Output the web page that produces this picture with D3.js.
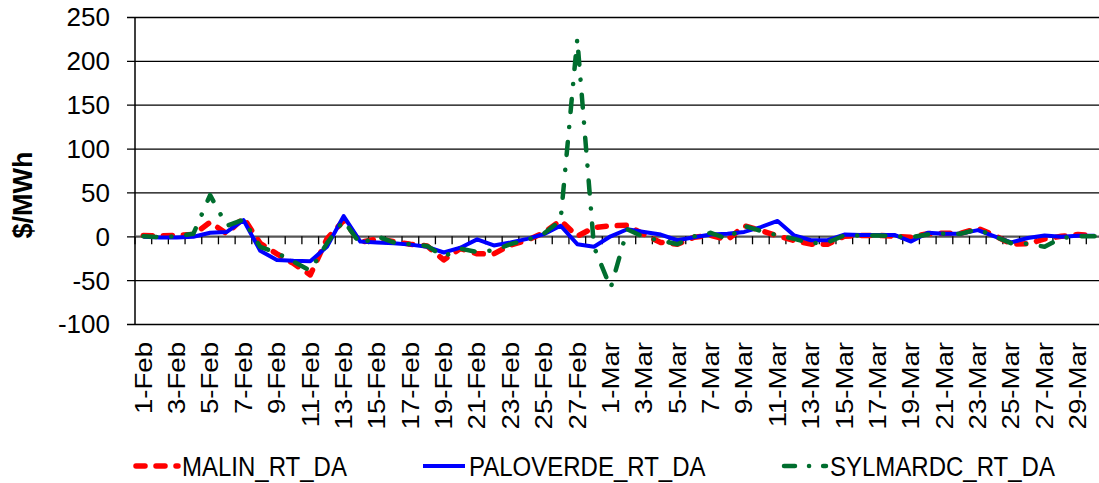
<!DOCTYPE html>
<html>
    <head>
        <title>RT - DA spreads</title>
        <script src="https://d3js.org/d3.v7.min.js"></script>
        <style>
            body { margin: 0; background: white; }
            text { font-family: "Liberation Sans", Arial, sans-serif; fill: black; }
            .gridlines line { stroke: #000; stroke-width: 1.3; }
            .gridlines .domain { stroke: none; }
        </style>
    </head>

    <body>
        <svg id="svg" width=1099 height=483></svg>

        <script>
            // categories (one per day)
            const dates = [
                "1-Feb","2-Feb","3-Feb","4-Feb","5-Feb","6-Feb","7-Feb","8-Feb","9-Feb","10-Feb",
                "11-Feb","12-Feb","13-Feb","14-Feb","15-Feb","16-Feb","17-Feb","18-Feb","19-Feb","20-Feb",
                "21-Feb","22-Feb","23-Feb","24-Feb","25-Feb","26-Feb","27-Feb","28-Feb",
                "1-Mar","2-Mar","3-Mar","4-Mar","5-Mar","6-Mar","7-Mar","8-Mar","9-Mar","10-Mar",
                "11-Mar","12-Mar","13-Mar","14-Mar","15-Mar","16-Mar","17-Mar","18-Mar","19-Mar","20-Mar",
                "21-Mar","22-Mar","23-Mar","24-Mar","25-Mar","26-Mar","27-Mar","28-Mar","29-Mar","30-Mar"
            ];

            const malin = [
                1, 0.5, 1, 2, 16, 3, 21, -8, -20, -31,
                -44, -3, 18, -7, -3, -6, -9, -11, -27, -14,
                -20, -20, -10, -4.5, 4, 18, 0, 10,
                12, 12.5, 2, -7, -9, -1, 1, -4, 12, 6.5,
                0.5, -5, -9, -9, 0, 1, 1, 0, -1, 3,
                3.5, 3.5, 9, 1, -9, -8.5, -3, 0, 2, 1
            ];

            const paloverde = [
                -0.5, -1.5, -1.5, -0.5, 4, 5, 18.5, -16.5, -27, -28,
                -28.5, -12, 23, -6, -7, -8, -9.5, -12, -18.5, -13,
                -3.5, -10.5, -7, -3, 2.5, 12, -9, -12,
                0, 8, 5, 2, -4.5, -1, 2, 3, 5, 10.5,
                17.5, 1, -4.5, -4.5, 2, 1.5, 1.5, 1.5, -6, 4,
                3, 3, 7, 0, -7, -2, 1, -0.5, 0.5, 0.5
            ];

            const sylmardc = [
                0, -1, 0, 3, 47, 12, 19, -12, -19, -29,
                -39, -8, 18, -9, 0, -7, -9, -11, -23, -14,
                -18, -16, -9, -4, 3, 18, 225, -12,
                -59, 8, -1, -5, -9, 0, 4, -3, 12, 6,
                1, -3, -8, -7, 1, 1, 1, 0, -1, 2,
                3, 3, 8, 0, -8, -8.5, -12, -2, 0, 0
            ];

            const yTicks = [-100, -50, 0, 50, 100, 150, 200, 250];

            const seriesNames = ["MALIN_RT_DA", "PALOVERDE_RT_DA", "SYLMARDC_RT_DA"];

            const svg = d3.select("svg#svg");
            const margins = { top: 17, right: -4, bottom: 159, left: 135 };
            const width = +svg.attr("width");
            const height = +svg.attr("height");
            const chartWidth = width - margins.left - margins.right;
            const chartHeight = height - margins.top - margins.bottom;

            svg.append("rect").attr("width", width).attr("height", height).attr("fill", "white");

            // Scales
            const xScale = d3.scaleBand()
                             .domain(dates)
                             .range([0, chartWidth]);
            const yScale = d3.scaleLinear()
                             .domain([-100, 250])
                             .range([chartHeight, 0]);
            const xc = d => xScale(d) + xScale.bandwidth() / 2;

            let annotations = svg.append("g").attr("id", "annotations");
            let chartArea = svg.append("g")
                               .attr("id", "chartArea")
                               .attr("transform", `translate(${margins.left},${margins.top})`);

            // horizontal gridlines (with small outer ticks on the left)
            let leftGridLines = d3.axisLeft(yScale)
                                  .tickValues(yTicks)
                                  .tickSize(-chartWidth - 8)
                                  .tickFormat("");
            annotations.append("g")
                       .attr("class", "gridlines")
                       .attr("transform", `translate(${margins.left - 8},${margins.top})`)
                       .call(leftGridLines);

            // y labels
            annotations.append("g")
                       .selectAll("text")
                       .data(yTicks)
                       .join("text")
                       .attr("x", margins.left - 25)
                       .attr("y", d => margins.top + yScale(d))
                       .attr("dy", "0.36em")
                       .attr("text-anchor", "end")
                       .attr("font-size", 26)
                       .text(d => d);

            // left axis line
            annotations.append("line")
                       .attr("x1", margins.left).attr("x2", margins.left)
                       .attr("y1", margins.top).attr("y2", margins.top + chartHeight)
                       .attr("stroke", "#000").attr("stroke-width", 1.5);

            // category axis crossing at zero, ticks between categories
            let zeroY = margins.top + yScale(0);
            annotations.append("line")
                       .attr("x1", margins.left).attr("x2", margins.left + chartWidth)
                       .attr("y1", zeroY).attr("y2", zeroY)
                       .attr("stroke", "#555").attr("stroke-width", 1.5);
            annotations.append("g")
                       .selectAll("line")
                       .data(d3.range(dates.length + 1))
                       .join("line")
                       .attr("x1", i => margins.left + i * xScale.bandwidth())
                       .attr("x2", i => margins.left + i * xScale.bandwidth())
                       .attr("y1", zeroY)
                       .attr("y2", zeroY + 8)
                       .attr("stroke", "#000")
                       .attr("stroke-width", 1.3);

            // x labels, every other day, rotated
            let labelTop = margins.top + chartHeight + 18;
            annotations.append("g")
                       .selectAll("text")
                       .data(dates.filter((d, i) => i % 2 === 0))
                       .join("text")
                       .attr("transform", d => `translate(${margins.left + xc(d)},${labelTop}) rotate(-90) scale(1.2,1)`)
                       .attr("dy", "0.36em")
                       .attr("text-anchor", "end")
                       .attr("font-size", 23)
                       .text(d => d);

            // y title
            annotations.append("text")
                       .attr("transform", "translate(22,195) rotate(-90)")
                       .attr("dy", "0.36em")
                       .attr("text-anchor", "middle")
                       .attr("font-size", 27)
                       .attr("font-weight", "bold")
                       .text("$/MWh");

            // Lines
            const styles = [
                { values: malin, color: "#ff0000", width: 5.5, dash: "9,11", legendDash: "9,11" },
                { values: paloverde, color: "#0000ff", width: 4, dash: null, legendDash: null },
                { values: sylmardc, color: "#006e2e", width: 4.5, dash: "13,15,0.1,15", legendDash: "11,14,0.1,14" }
            ];

            const lineGen = d3.line()
                              .x((d, i) => xc(dates[i]))
                              .y(d => yScale(d))
                              .curve(d3.curveLinear);

            chartArea.selectAll("path")
                     .data(styles)
                     .join("path")
                     .attr("fill", "none")
                     .attr("stroke", d => d.color)
                     .attr("stroke-width", d => d.width)
                     .attr("stroke-linecap", d => d.dash ? "round" : "butt")
                     .attr("stroke-linejoin", "round")
                     .attr("stroke-dasharray", d => d.dash)
                     .attr("d", d => lineGen(d.values));

            // Legend
            const legendX = [133, 420, 781];
            let legend = svg.append("g").attr("id", "legend");
            let items = legend.selectAll("g")
                              .data(styles)
                              .join("g")
                              .attr("transform", (d, i) => `translate(${legendX[i]},466)`);
            items.append("line")
                 .attr("x1", 3).attr("x2", 45)
                 .attr("stroke", d => d.color)
                 .attr("stroke-width", d => d.width)
                 .attr("stroke-linecap", d => d.dash ? "round" : "butt")
                 .attr("stroke-dasharray", d => d.legendDash);
            items.append("text")
                 .attr("x", 49)
                 .attr("dy", "0.36em")
                 .attr("font-size", 24)
                 .attr("transform", "scale(1,1.15)")
                 .text((d, i) => seriesNames[i]);
        </script>
    </body>
</html>
